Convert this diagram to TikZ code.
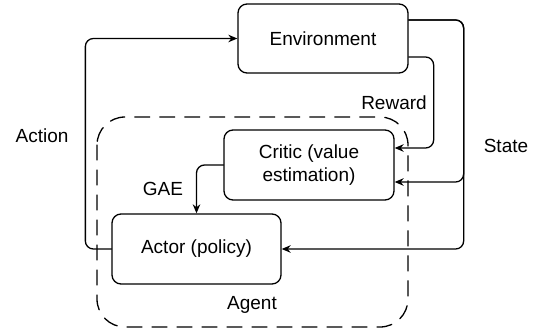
\documentclass[tikz,border=0pt]{standalone}
\usepackage{fontspec}
\setmainfont{Liberation Sans}
\usetikzlibrary{arrows.meta}
\tikzset{
  block/.style={draw,line width=1.3pt,rounded corners=9pt,inner sep=0pt,
    font=\fontsize{19}{23}\selectfont,align=center},
  flow/.style={line width=1.3pt,rounded corners=8pt,-{Stealth[length=9pt,width=7.5pt]}},
  lbl/.style={font=\fontsize{19}{23}\selectfont,inner sep=0pt}
}

\begin{document}
\begin{tikzpicture}[x=1pt,y=-1pt,line cap=round,line join=round]
\path[use as bounding box] (0,0) rectangle (543,331);
% agent frame
\draw[line width=1.3pt,dash pattern=on 15pt off 10pt,rounded corners=28pt] (97,117) rectangle (408,327);
\node[lbl] (agentlbl) at (252,305) {Agent};
% blocks
\node[block,minimum width=170pt,minimum height=69pt] (env) at (323,38.5) {Environment};
\node[block,minimum width=170pt,minimum height=70pt] (critic) at (309,165) {Critic (value\\estimation)};
\node[block,minimum width=169pt,minimum height=70pt] (actor) at (196.5,249) {Actor (policy)};
% connectors
\draw[flow] (actor.west) -- ++(-26,0) |- (env.west);
\draw[flow] ([yshift=-18.5pt]env.east) -- ++(25,0) |- ([yshift=17pt]critic.east);
\draw[flow] ([yshift=18.5pt]env.east) -- ++(55,0) |- ([yshift=-17pt]critic.east);
\draw[flow] ([yshift=18.5pt]env.east) -- ++(55,0) |- (actor.east);
\draw[flow] (critic.west) -| (actor.north);
% labels
\node[lbl] (actionlbl) at (42,136) {Action};
\node[lbl] (rewardlbl) at (394,103) {Reward};
\node[lbl] (statelbl) at (506,146) {State};
\node[lbl] (gaelbl) at (163,189) {GAE};
\end{tikzpicture}
\end{document}
